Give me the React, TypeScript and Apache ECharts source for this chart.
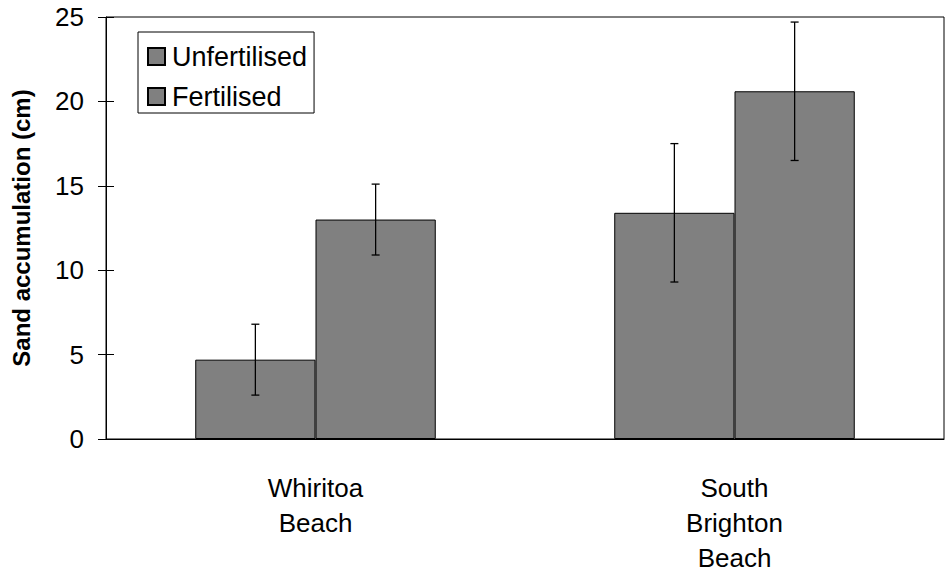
import React, { useEffect, useRef } from "react";
import * as echarts from "echarts";

const categories = ["Whiritoa\nBeach", "South\nBrighton\nBeach"];
const seriesNames = ["Unfertilised", "Fertilised"];
const unfertilised = [4.7, 13.4];
const fertilised = [13.0, 20.6];
const unfertilisedErr = [2.1, 4.1];
const fertilisedErr = [2.1, 4.1];
const yMin = 0;
const yMax = 25;
const yInterval = 5;

const FONT = '"Liberation Sans", Arial, sans-serif';
const GAP = 0.426;

export default function App() {
  const ref = useRef<HTMLDivElement>(null);
  useEffect(() => {
    if (!ref.current) return;
    const chart = echarts.init(ref.current, null, { renderer: "svg" });
    const errData: number[][] = [];
    categories.forEach((_, i) => {
      errData.push([i, unfertilised[i] - unfertilisedErr[i], unfertilised[i] + unfertilisedErr[i], 0]);
      errData.push([i, fertilised[i] - fertilisedErr[i], fertilised[i] + fertilisedErr[i], 1]);
    });
    const barStyle = { color: "#808080", borderColor: "#000", borderWidth: 1 };
    chart.setOption({
      animation: false,
      backgroundColor: "#fff",
      textStyle: { fontFamily: FONT },
      grid: {
        left: 106,
        top: 17,
        right: 1,
        bottom: 134,
        show: true,
        borderColor: "#000",
        borderWidth: 1,
        backgroundColor: "transparent",
        containLabel: false,
        outerBoundsMode: "none",
      },
      legend: {
        data: seriesNames,
        orient: "vertical",
        left: 138,
        top: 32,
        backgroundColor: "#fff",
        borderColor: "#000",
        borderWidth: 1,
        borderRadius: 0,
        padding: [11, 7, 3, 9],
        itemGap: 13,
        itemWidth: 17,
        itemHeight: 17,
        icon: "rect",
        textStyle: { fontSize: 27, color: "#000", fontFamily: FONT, padding: [0, 0, 0, 2] },
      },
      xAxis: {
        type: "category",
        data: categories,
        axisLine: { lineStyle: { color: "#000", width: 1 } },
        axisTick: { show: false },
        axisLabel: {
          color: "#000",
          fontSize: 26,
          fontFamily: FONT,
          lineHeight: 35,
          margin: 31,
          interval: 0,
        },
      },
      yAxis: [
        {
          type: "value",
          min: yMin,
          max: yMax,
          interval: yInterval,
          name: "Sand accumulation (cm)",
          nameLocation: "middle",
          nameRotate: 90,
          nameGap: 73,
          nameTextStyle: { fontSize: 24, fontWeight: "bold", color: "#000", fontFamily: FONT },
          axisLine: { show: true, lineStyle: { color: "#000", width: 1 } },
          axisTick: { show: true, length: 8, lineStyle: { color: "#000" } },
          axisLabel: { color: "#000", fontSize: 26, fontFamily: FONT, margin: 22 },
          splitLine: { show: false },
        },
        {
          type: "value",
          min: yMin,
          max: yMax,
          interval: yInterval,
          position: "left",
          axisLine: { show: false },
          axisTick: { show: true, inside: true, length: 8, lineStyle: { color: "#000" } },
          axisLabel: { show: false },
          splitLine: { show: false },
        },
      ],
      series: [
        {
          name: seriesNames[0],
          type: "bar",
          data: unfertilised,
          barGap: "0%",
          barCategoryGap: GAP * 100 + "%",
          itemStyle: barStyle,
        },
        {
          name: seriesNames[1],
          type: "bar",
          data: fertilised,
          barGap: "0%",
          barCategoryGap: GAP * 100 + "%",
          itemStyle: barStyle,
        },
        {
          type: "custom",
          name: "errors",
          data: errData,
          z: 10,
          encode: { x: 0, y: [1, 2] },
          renderItem: (params: any, api: any) => {
            const cat = api.value(0);
            const low = api.value(1);
            const high = api.value(2);
            const side = api.value(3);
            const band = api.size([1, 0])[0];
            const barW = (band * (1 - GAP)) / 2;
            const xOff = (side === 0 ? -0.5 : 0.5) * barW;
            const top = api.coord([cat, high]);
            const bot = api.coord([cat, low]);
            const x = top[0] + xOff;
            const cap = 4;
            const st = { stroke: "#000", lineWidth: 1.3 };
            return {
              type: "group",
              children: [
                { type: "line", shape: { x1: x, y1: top[1], x2: x, y2: bot[1] }, style: st },
                { type: "line", shape: { x1: x - cap, y1: top[1], x2: x + cap, y2: top[1] }, style: st },
                { type: "line", shape: { x1: x - cap, y1: bot[1], x2: x + cap, y2: bot[1] }, style: st },
              ],
            };
          },
        },
      ],
    });
    return () => chart.dispose();
  }, []);
  return (
    <div
      ref={ref}
      style={{ position: "absolute", left: 0, top: 0, width: 945, height: 573 }}
    />
  );
}
